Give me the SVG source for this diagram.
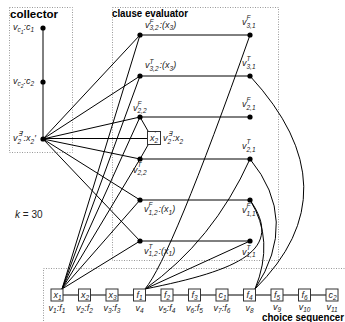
<svg xmlns="http://www.w3.org/2000/svg" width="345" height="322" viewBox="0 0 345 322">
<style>
.e{stroke:#000;stroke-width:1;fill:none}
.n{fill:#000}
.b{fill:#fff;stroke:#333;stroke-width:1}
.d{fill:none;stroke:#999;stroke-width:1;stroke-dasharray:1 1.5}
text{font-family:"Liberation Sans",Arial,sans-serif;fill:#222}
.t{font-size:9px;font-style:italic}
.s{font-size:6.5px}
.ss{font-size:5px}
.u{font-style:normal}
.h{font-size:10px;font-weight:bold;font-style:normal;fill:#000}
</style>
<g id="frames">
<rect class="d" x="9.5" y="7.5" width="63" height="145"/>
<rect class="d" x="112.5" y="7.5" width="166" height="253"/>
<rect class="d" x="43.5" y="268.5" width="310" height="60"/>
<text class="h" x="10" y="17.5" textLength="48" lengthAdjust="spacingAndGlyphs">collector</text>
<text class="h" x="112" y="17" textLength="76" lengthAdjust="spacingAndGlyphs">clause evaluator</text>
<text class="h" x="262" y="320.5" textLength="82" lengthAdjust="spacingAndGlyphs">choice sequencer</text>
<text class="t" x="15" y="218" style="font-size:10px">k<tspan class="u"> = 30</tspan></text>
</g>
<g id="connectors">
<path class="e" d="M43,28V139"/>
<path class="e" d="M43,139L140,35M43,139L140,76M43,139L140,117M43,138.5H147M43,139L140,159M43,139L140,200M43,139L140,241"/>
<path class="e" d="M140,117L148,131M148,145L140,159"/>
<path class="e" d="M62,289L140,35M62,289L140,76M62,289L140,117M62,289L140,159M62,289L140,200M62,289L140,241"/>
<path class="e" d="M140,35H250M140,76H250M140,117H250M140,159H250M140,200H250M140,241H250"/>
<path class="e" d="M63,295H326"/>
<path class="e" d="M145,289Q171,258 250,35"/>
<path class="e" d="M145,289Q213,241 250,159"/>
<path class="e" d="M145,289L250,241"/>
<path class="e" d="M145,289C240,270 285,250 250,200"/>
<path class="e" d="M255,289Q275,240 250,200"/>
<path class="e" d="M255,289Q300,220 250,159"/>
<path class="e" d="M255,289Q355,190 250,76"/>
</g>
<g id="collector-nodes">
<g id="vc1"><circle class="n" cx="43" cy="28" r="2.6"/><text class="t" x="13" y="30">v<tspan class="s" dy="2">c</tspan><tspan class="ss" dy="1.5">1</tspan><tspan dy="-3.5">:c</tspan><tspan class="s" dy="2">1</tspan></text></g>
<g id="vc2"><circle class="n" cx="43" cy="82" r="2.6"/><text class="t" x="13" y="84">v<tspan class="s" dy="2">c</tspan><tspan class="ss" dy="1.5">2</tspan><tspan dy="-3.5">:c</tspan><tspan class="s" dy="2">2</tspan></text></g>
<g id="v2ep"><circle class="n" cx="43" cy="139" r="2.6"/><text class="t" x="13" y="141">v<tspan class="s" x="17.5" y="136">∃′</tspan><tspan class="s" x="17.5" y="143.5">2</tspan><tspan x="23.5" y="141">:x</tspan><tspan class="s" y="143.5">2</tspan><tspan y="141">′</tspan></text></g>
</g>
<g id="clause-left">
<g id="v32F"><circle class="n" cx="140" cy="35" r="2.6"/><text class="t" x="145" y="27.5">v<tspan class="s" x="149.5" y="23.5">F</tspan><tspan class="s" x="149.5" y="30">3,2</tspan><tspan x="159.5" y="27.5">:(x</tspan><tspan class="s" y="30">3</tspan><tspan y="27.5">)</tspan></text></g>
<g id="v32T"><circle class="n" cx="140" cy="76" r="2.6"/><text class="t" x="145" y="68">v<tspan class="s" x="149.5" y="63.5">T</tspan><tspan class="s" x="149.5" y="70.5">3,2</tspan><tspan x="159.5" y="68">:(x</tspan><tspan class="s" y="70.5">3</tspan><tspan y="68">)</tspan></text></g>
<g id="v22F"><circle class="n" cx="140" cy="117" r="2.6"/><text class="t" x="133" y="110.5">v<tspan class="s" x="137.5" y="106">F</tspan><tspan class="s" x="137.5" y="113">2,2</tspan></text></g>
<g id="v2e"><rect class="b" x="147.5" y="131.5" width="13" height="13"/><text class="t" x="150" y="141">x<tspan class="s" x="154.5" y="136">′</tspan><tspan class="s" x="154.5" y="143">2</tspan></text><text class="t" x="163" y="141">v<tspan class="s" x="167.5" y="136">∃</tspan><tspan class="s" x="167.5" y="143.5">2</tspan><tspan x="172.5" y="141">:x</tspan><tspan class="s" y="143.5">2</tspan></text></g>
<g id="v22T"><circle class="n" cx="140" cy="159" r="2.6"/><text class="t" x="133" y="172.5">v<tspan class="s" x="137.5" y="167">T</tspan><tspan class="s" x="137.5" y="175">2,2</tspan></text></g>
<g id="v12F"><circle class="n" cx="140" cy="200" r="2.6"/><text class="t" x="144" y="212">v<tspan class="s" x="148.5" y="207">F</tspan><tspan class="s" x="148.5" y="214.5">1,2</tspan><tspan x="158.5" y="212">:(x</tspan><tspan class="s" y="214.5">1</tspan><tspan y="212">)</tspan></text></g>
<g id="v12T"><circle class="n" cx="140" cy="241" r="2.6"/><text class="t" x="144" y="253.5">v<tspan class="s" x="148.5" y="248.5">T</tspan><tspan class="s" x="148.5" y="256">1,2</tspan><tspan x="158.5" y="253.5">:(x</tspan><tspan class="s" y="256">1</tspan><tspan y="253.5">)</tspan></text></g>
</g>
<g id="clause-right">
<g id="v31F"><circle class="n" cx="250" cy="35" r="2.6"/><text class="t" x="242" y="25">v<tspan class="s" x="246.5" y="20">F</tspan><tspan class="s" x="246.5" y="27.5">3,1</tspan></text></g>
<g id="v31T"><circle class="n" cx="250" cy="76" r="2.6"/><text class="t" x="242" y="66">v<tspan class="s" x="246.5" y="61">T</tspan><tspan class="s" x="246.5" y="68.5">3,1</tspan></text></g>
<g id="v21F"><circle class="n" cx="250" cy="117" r="2.6"/><text class="t" x="242" y="107">v<tspan class="s" x="246.5" y="102">F</tspan><tspan class="s" x="246.5" y="109.5">2,1</tspan></text></g>
<g id="v21T"><circle class="n" cx="250" cy="159" r="2.6"/><text class="t" x="242" y="149">v<tspan class="s" x="246.5" y="144">T</tspan><tspan class="s" x="246.5" y="151.5">2,1</tspan></text></g>
<g id="v11F"><circle class="n" cx="250" cy="200" r="2.6"/><text class="t" x="242" y="213">v<tspan class="s" x="246.5" y="208">F</tspan><tspan class="s" x="246.5" y="215.5">1,1</tspan></text></g>
<g id="v11T"><circle class="n" cx="250" cy="241" r="2.6"/><text class="t" x="242" y="254.5">v<tspan class="s" x="246.5" y="249.5">T</tspan><tspan class="s" x="246.5" y="257">1,1</tspan></text></g>
</g>
<g id="chain">
<g id="cx1"><rect class="b" x="51" y="289" width="12" height="12"/><text class="t" x="53.5" y="298">x<tspan class="s" dy="1.5">1</tspan></text><text class="t" x="57" y="311" text-anchor="middle">v<tspan class="s" dy="2">1</tspan><tspan dy="-2">:f</tspan><tspan class="s" dy="2">1</tspan></text></g>
<g id="cx2"><rect class="b" x="78.5" y="289" width="12" height="12"/><text class="t" x="81" y="298">x<tspan class="s" dy="1.5">2</tspan></text><text class="t" x="84.5" y="311" text-anchor="middle">v<tspan class="s" dy="2">2</tspan><tspan dy="-2">:f</tspan><tspan class="s" dy="2">2</tspan></text></g>
<g id="cx3"><rect class="b" x="106" y="289" width="12" height="12"/><text class="t" x="108.5" y="298">x<tspan class="s" dy="1.5">3</tspan></text><text class="t" x="112" y="311" text-anchor="middle">v<tspan class="s" dy="2">3</tspan><tspan dy="-2">:f</tspan><tspan class="s" dy="2">3</tspan></text></g>
<g id="cf1"><rect class="b" x="133.5" y="289" width="12" height="12"/><text class="t" x="136.5" y="298">f<tspan class="s" dy="1.5">1</tspan></text><text class="t" x="139.5" y="311" text-anchor="middle">v<tspan class="s" dy="2">4</tspan></text></g>
<g id="cf2"><rect class="b" x="161" y="289" width="12" height="12"/><text class="t" x="164" y="298">f<tspan class="s" dy="1.5">2</tspan></text><text class="t" x="167" y="311" text-anchor="middle">v<tspan class="s" dy="2">5</tspan><tspan dy="-2">:f</tspan><tspan class="s" dy="2">4</tspan></text></g>
<g id="cf3"><rect class="b" x="188.5" y="289" width="12" height="12"/><text class="t" x="191.5" y="298">f<tspan class="s" dy="1.5">3</tspan></text><text class="t" x="194.5" y="311" text-anchor="middle">v<tspan class="s" dy="2">6</tspan><tspan dy="-2">:f</tspan><tspan class="s" dy="2">5</tspan></text></g>
<g id="cc1"><rect class="b" x="216" y="289" width="12" height="12"/><text class="t" x="218.5" y="298">c<tspan class="s" dy="1.5">1</tspan></text><text class="t" x="222" y="311" text-anchor="middle">v<tspan class="s" dy="2">7</tspan><tspan dy="-2">:f</tspan><tspan class="s" dy="2">6</tspan></text></g>
<g id="cf4"><rect class="b" x="243.5" y="289" width="12" height="12"/><text class="t" x="246.5" y="298">f<tspan class="s" dy="1.5">4</tspan></text><text class="t" x="249.5" y="311" text-anchor="middle">v<tspan class="s" dy="2">8</tspan></text></g>
<g id="cf5"><rect class="b" x="271" y="289" width="12" height="12"/><text class="t" x="274" y="298">f<tspan class="s" dy="1.5">5</tspan></text><text class="t" x="277" y="310" text-anchor="middle">v<tspan class="s" dy="1.5">9</tspan></text></g>
<g id="cf6"><rect class="b" x="298.5" y="289" width="12" height="12"/><text class="t" x="301.5" y="298">f<tspan class="s" dy="1.5">6</tspan></text><text class="t" x="304.5" y="310" text-anchor="middle">v<tspan class="s" dy="1.5">10</tspan></text></g>
<g id="cc2"><rect class="b" x="326" y="289" width="12" height="12"/><text class="t" x="328.5" y="298">c<tspan class="s" dy="1.5">2</tspan></text><text class="t" x="332" y="310" text-anchor="middle">v<tspan class="s" dy="1.5">11</tspan></text></g>
</g>
</svg>
